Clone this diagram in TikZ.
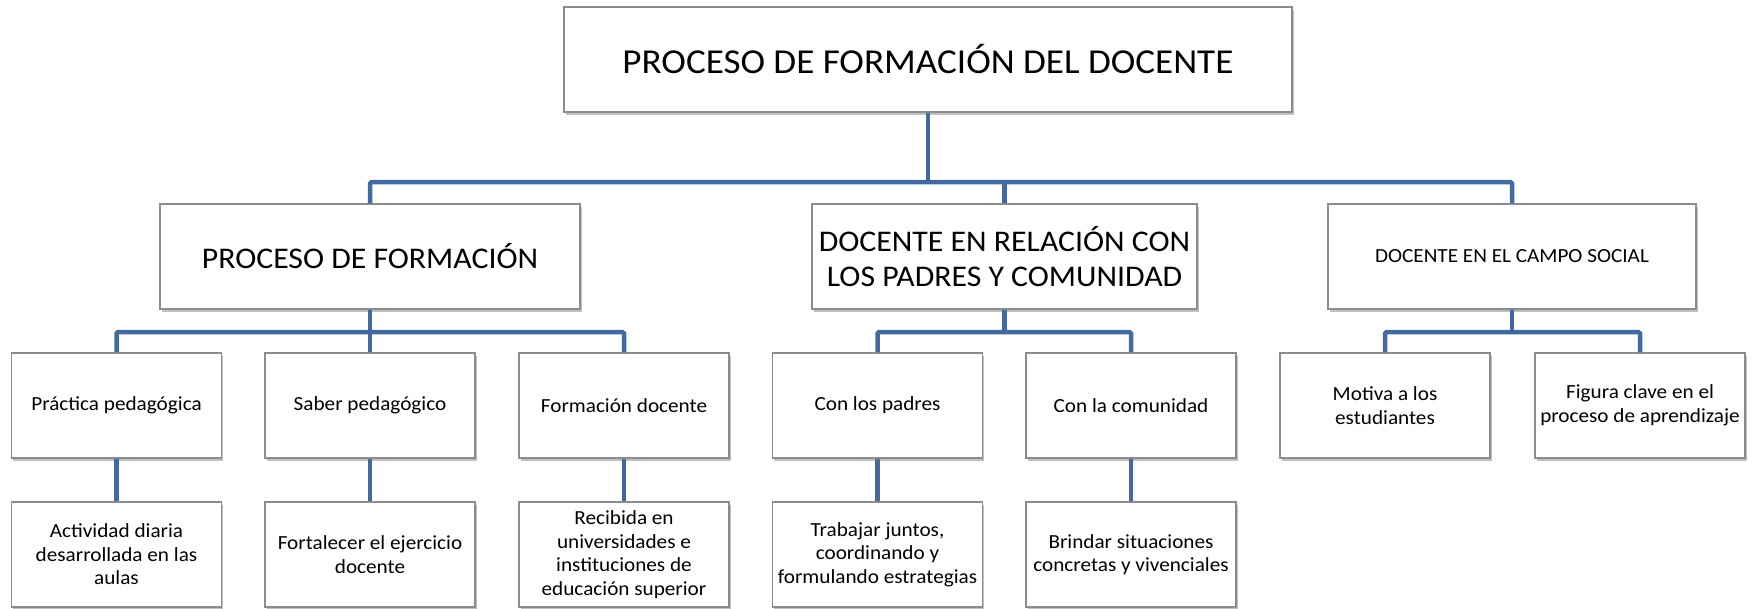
\documentclass[tikz,border=0pt]{standalone}
\usepackage{fontspec}
\setmainfont{Carlito}[FakeStretch=1.06]
\usetikzlibrary{shadows}
\definecolor{linkblue}{RGB}{66,106,160}
\tikzset{
  box/.style={draw=black!45, line width=1.2pt, fill=white, align=center, inner sep=0pt,
    drop shadow={shadow xshift=1.5pt, shadow yshift=-3pt, opacity=0.45, fill=black!55}},
  bigbox/.style={box, minimum height=105pt, font=\fontsize{30}{35}\selectfont},
  smallbox/.style={box, minimum width=210pt, minimum height=105pt, font=\fontsize{20}{23.5}\selectfont},
  link/.style={draw=linkblue, line width=4.5pt, rounded corners=1.5pt}
}
\begin{document}
\begin{tikzpicture}[x=1pt,y=-1pt]
  \useasboundingbox (0,0) rectangle (1756,608);
  \node[box, minimum width=728pt, minimum height=105pt, font=\fontsize{35}{42}\selectfont] (top) at (928,59.5) {PROCESO DE FORMACIÓN DEL DOCENTE};
  \node[bigbox, minimum width=420pt] (formacion) at (370,256.5) {PROCESO DE FORMACIÓN};
  \node[bigbox, minimum width=385pt] (relacion) at (1004.5,256.5) {DOCENTE EN RELACIÓN CON\\LOS PADRES Y COMUNIDAD};
  \node[bigbox, minimum width=368pt, font=\fontsize{20}{23.5}\selectfont] (social) at (1512,256.5) {DOCENTE EN EL CAMPO SOCIAL};
  \foreach \n/\x/\t in {m1/116.5/{Práctica pedagógica}, m2/370/{Saber pedagógico}, m3/624/{Formación docente},
    m4/877.5/{Con los padres}, m5/1131/{Con la comunidad}, m6/1385/{Motiva a los\\estudiantes},
    m7/1640/{Figura clave en el\\proceso de aprendizaje}} {
    \node[smallbox] (\n) at (\x,405.5) {\t};
  }
  \foreach \n/\x/\t in {b1/116.5/{Actividad diaria\\desarrollada en las\\aulas}, b2/370/{Fortalecer el ejercicio\\docente},
    b3/624/{Recibida en\\universidades e\\instituciones de\\educación superior},
    b4/877.5/{Trabajar juntos,\\coordinando y\\formulando estrategias}, b5/1131/{Brindar situaciones\\concretas y vivenciales}} {
    \node[smallbox] (\n) at (\x,554.5) {\t};
  }
  % bar levels
  \coordinate (bar1) at (0,182);
  \coordinate (bar2) at (0,332);
  \draw[link] (top.south) -- (top.south |- bar1);
  \draw[link] (formacion.north) |- (social.north |- bar1) -- (social.north);
  \draw[link] (relacion.north) -- (relacion.north |- bar1);
  \draw[link] (formacion.south) -- (formacion.south |- bar2);
  \draw[link] (m1.north) |- (m3.north |- bar2) -- (m3.north);
  \draw[link] (m2.north) -- (m2.north |- bar2);
  \draw[link] (relacion.south) -- (relacion.south |- bar2);
  \draw[link] (m4.north) |- (m5.north |- bar2) -- (m5.north);
  \draw[link] (social.south) -- (social.south |- bar2);
  \draw[link] (m6.north) |- (m7.north |- bar2) -- (m7.north);
  \foreach \n in {1,...,5} {
    \draw[link] (m\n.south) -- (b\n.north);
  }
\end{tikzpicture}
\end{document}
